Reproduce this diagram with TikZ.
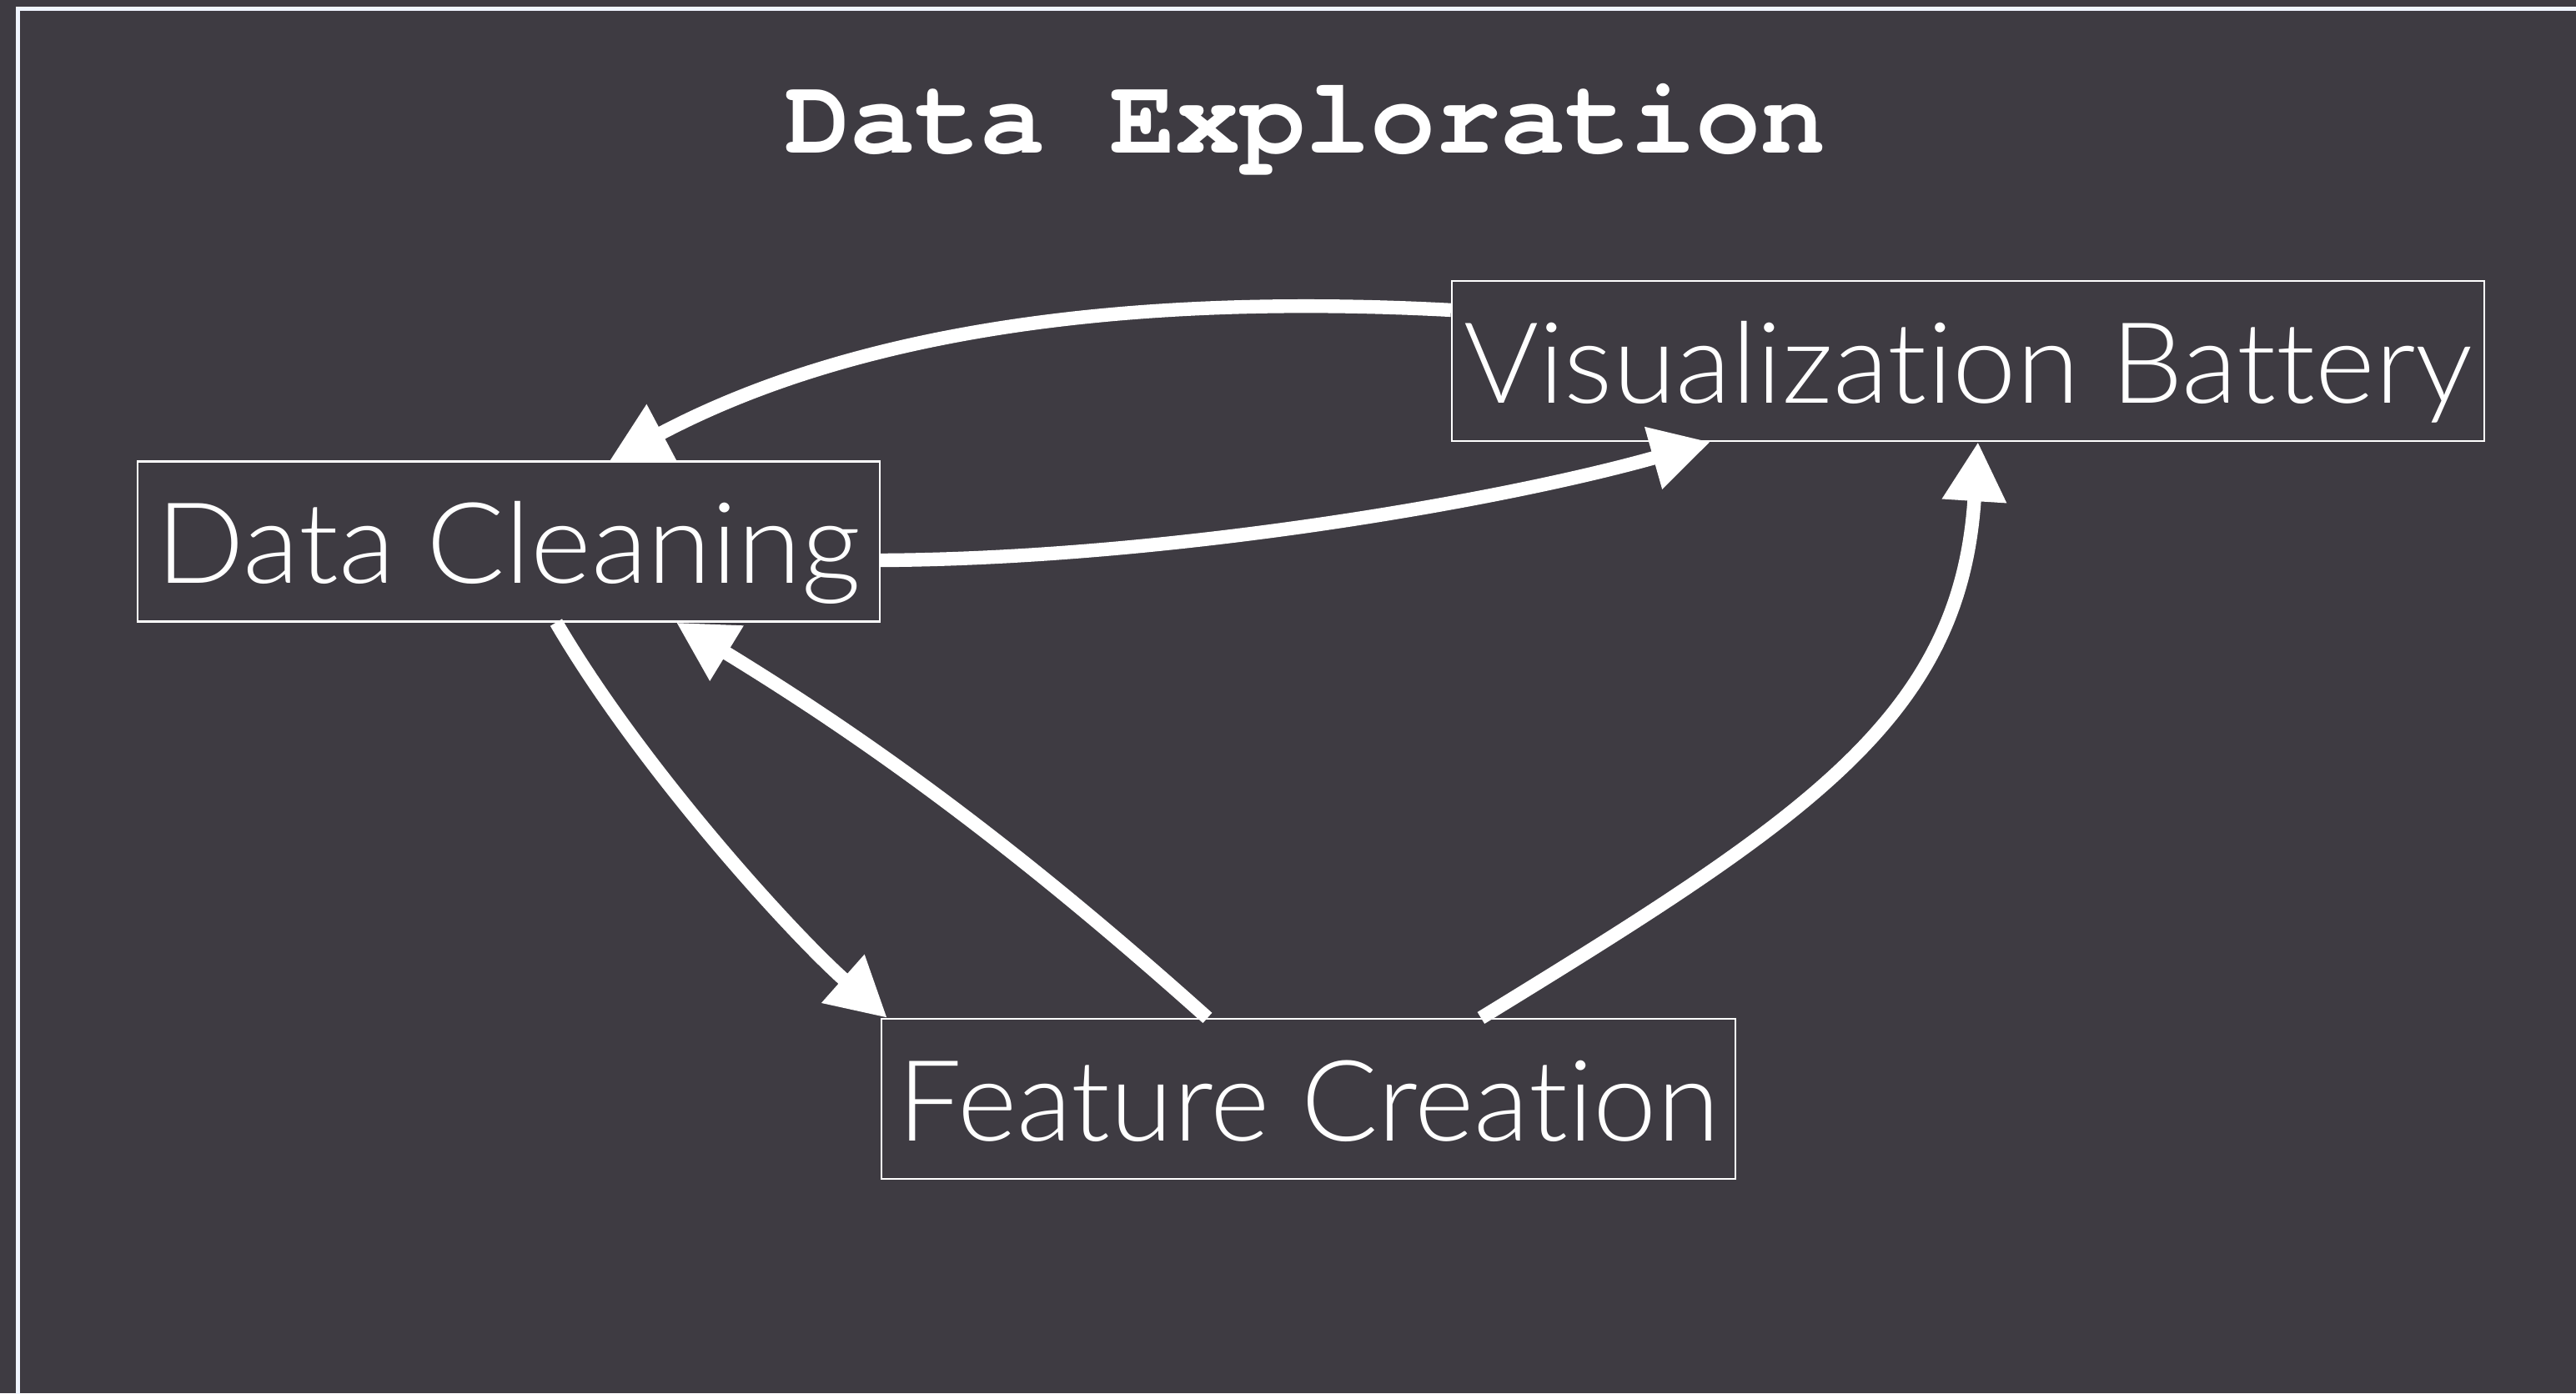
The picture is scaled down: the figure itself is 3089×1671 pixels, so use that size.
\documentclass[tikz,border=0pt]{standalone}
\usepackage{fontspec}
\usepackage{graphicx}
\newfontfamily\boxfont{Lato}[UprightFont={* Light}, Ligatures={NoCommon}]
\newfontfamily\titlefont{TeX Gyre Cursor}
\usetikzlibrary{arrows.meta,calc}
\definecolor{bgc}{RGB}{62,59,66}
\definecolor{framec}{RGB}{240,245,255}
\begin{document}
\begin{tikzpicture}[x=0.25pt,y=-0.25pt,
  box/.style={draw=white, line width=0.55pt, inner sep=0pt, minimum height=48pt,
    text height=25pt, text depth=0pt, text=white,
    font=\boxfont\fontsize{33.75pt}{40pt}\selectfont},
  link/.style={draw=white, line width=4.1pt,
    -{Triangle[length=17.75pt,width=18.25pt]}},
  titlestyle/.style={text=white, inner sep=0pt, anchor=base,
    font=\titlefont\bfseries\fontsize{32.5pt}{38pt}\selectfont}]
\useasboundingbox (0,0) rectangle (3089,1671);
\fill[bgc] (0,0) rectangle (3089,1671);
\clip (0,0) rectangle (3089,1671);
\draw[framec, line width=1.375pt] (21.5,10.5) rectangle (3300,1900);

\node[titlestyle] (title) at (1565,183) {Data Exploration};

\node[box, minimum width=222.5pt] (dc) at (610,649.5)
  {\resizebox{211.25pt}{\height}{Data Cleaning}};
\node[box, minimum width=309.5pt] (vb) at (2360,433)
  {\resizebox{302.5pt}{\height}{Visualization Battery}};
\node[box, minimum width=256pt] (fc) at (1569,1318)
  {\resizebox{246.25pt}{\height}{Feature Creation}};

\draw[link] ($(vb.north west)+(0,36)$) .. controls +(-341,-18) and +(318,-168.5) .. ($(dc.north west)+(567,0)$);
\draw[link] ($(dc.east)+(0,22.5)$) .. controls +(345,-2) and +(-252,71) .. ($(vb.south west)+(311,0)$);
\draw[link] ($(dc.south west)+(503,0)$) .. controls +(102,174.5) and +(-115,-102) .. ($(fc.north west)+(8,0)$);
\draw[link] ($(fc.north west)+(392,0)$) .. controls +(-230,-206) and +(230,140.5) .. ($(dc.south west)+(647,0)$);
\draw[link] ($(fc.north west)+(720,0)$) .. controls +(393,-241) and +(-21,330) .. ($(vb.south west)+(632,0)$);
\end{tikzpicture}
\end{document}
